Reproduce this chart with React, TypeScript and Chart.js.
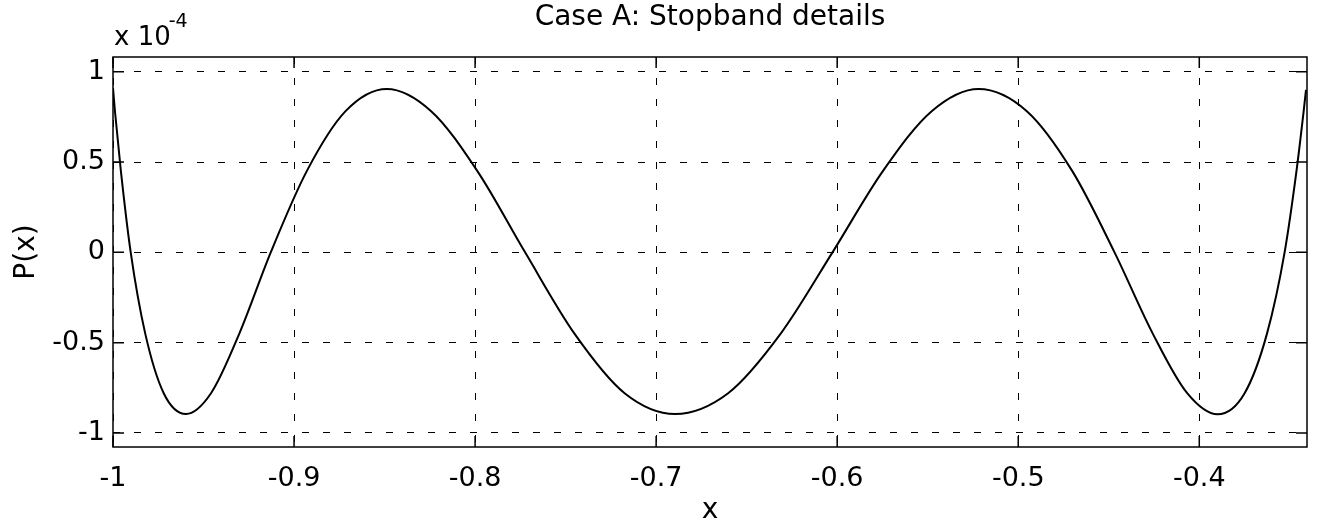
import React, { useEffect, useRef } from "react";
import { Chart, registerables } from "chart.js";

Chart.register(...registerables);

// Curve, P(x) in units of 1e-4
const X_VALUES = [
  -1.0, -0.99891, -0.99564, -0.99022, -0.98219, -0.97199, -0.95967, -0.94586, -0.93023,
  -0.91287, -0.89297, -0.87155, -0.84878, -0.82427, -0.79873, -0.77238, -0.74511, -0.71741,
  -0.6895, -0.66024, -0.6312, -0.6026, -0.57477, -0.54781, -0.52193, -0.49524, -0.47013,
  -0.4468, -0.4257, -0.40668, -0.38989, -0.37496, -0.3626, -0.35287, -0.34632, -0.34237,
  -0.34105,
];
const P_VALUES = [
  0.91, 0.78, 0.45, 0.0, -0.45, -0.78, -0.895, -0.78, -0.45,
  0.0, 0.45, 0.782, 0.905, 0.782, 0.45, 0.0, -0.45, -0.78,
  -0.895, -0.78, -0.45, 0.0, 0.45, 0.782, 0.905, 0.782, 0.45,
  0.0, -0.45, -0.78, -0.897, -0.78, -0.45, 0.0, 0.45, 0.78,
  0.9,
];

const X_TICKS = [-1, -0.9, -0.8, -0.7, -0.6, -0.5, -0.4];
const X_TICK_LABELS = ["-1", "-0.9", "-0.8", "-0.7", "-0.6", "-0.5", "-0.4"];
const Y_TICKS = [-1, -0.5, 0, 0.5, 1];
const Y_TICK_LABELS = ["-1", "-0.5", "0", "0.5", "1"];

const X_MIN = -1;
const X_MAX = -0.3405;
const Y_MIN = -1.078;
const Y_MAX = 1.082;

const TITLE = "Case A: Stopband details";
const X_LABEL = "x";
const Y_LABEL = "P(x)";
const EXP_BASE = "x 10";
const EXP_POWER = "-4";

const FONT_FAMILY = '"DejaVu Sans", "Liberation Sans", Arial, sans-serif';

const framePlugin = {
  id: "matlabFrame",
  afterDraw(chart: any) {
    const { ctx, chartArea, scales } = chart;
    const { left, right, top, bottom } = chartArea;
    ctx.save();
    ctx.strokeStyle = "#000";
    ctx.lineWidth = 1.5;
    ctx.setLineDash([]);
    ctx.strokeRect(left, top, right - left, bottom - top);
    const tl = 11;
    ctx.beginPath();
    for (const t of scales.x.ticks) {
      const px = scales.x.getPixelForValue(t.value);
      ctx.moveTo(px, bottom);
      ctx.lineTo(px, bottom - tl);
      ctx.moveTo(px, top);
      ctx.lineTo(px, top + tl);
    }
    for (const t of scales.y.ticks) {
      const py = scales.y.getPixelForValue(t.value);
      ctx.moveTo(left, py);
      ctx.lineTo(left + tl, py);
      ctx.moveTo(right, py);
      ctx.lineTo(right - tl, py);
    }
    ctx.stroke();

    // exponent label
    ctx.fillStyle = "#000";
    ctx.textBaseline = "alphabetic";
    ctx.textAlign = "left";
    ctx.font = `26px ${FONT_FAMILY}`;
    const bx = 114;
    ctx.fillText(EXP_BASE, bx, 45);
    const w = ctx.measureText(EXP_BASE).width;
    ctx.font = `19px ${FONT_FAMILY}`;
    ctx.fillText(EXP_POWER, bx + w - 2, 27);
    ctx.restore();
  },
};

export default function App() {
  const canvasRef = useRef<HTMLCanvasElement | null>(null);

  useEffect(() => {
    if (!canvasRef.current) return;
    const points = X_VALUES.map((x, i) => ({ x, y: P_VALUES[i] }));
    const chart = new Chart(canvasRef.current, {
      type: "line",
      data: {
        datasets: [
          {
            data: points,
            borderColor: "#000",
            borderWidth: 2,
            pointRadius: 0,
            fill: false,
            cubicInterpolationMode: "monotone",
          },
        ],
      },
      options: {
        animation: false,
        responsive: true,
        maintainAspectRatio: false,
        layout: { padding: { left: 0, right: 11, top: 0, bottom: 0 } },
        plugins: {
          legend: { display: false },
          tooltip: { enabled: false },
          title: {
            display: true,
            fullSize: false,
            text: TITLE,
            color: "#000",
            font: { family: FONT_FAMILY, size: 28, weight: "normal" },
            padding: { top: 1, bottom: 22.4 },
          },
        },
        scales: {
          x: {
            type: "linear",
            min: X_MIN,
            max: X_MAX,
            afterBuildTicks: (scale: any) => {
              scale.ticks = X_TICKS.map((v) => ({ value: v }));
            },
            afterFit: (scale: any) => {
              scale.height = 82;
            },
            ticks: {
              color: "#000",
              font: { family: FONT_FAMILY, size: 27 },
              padding: 16,
              maxRotation: 0,
              autoSkip: false,
              callback: (v: any) => {
                const i = X_TICKS.findIndex((t) => Math.abs(t - Number(v)) < 1e-9);
                return i >= 0 ? X_TICK_LABELS[i] : "";
              },
            },
            grid: { color: "#000", lineWidth: 1, drawTicks: false },
            border: { display: false, dash: [7, 14] },
            title: {
              display: true,
              text: X_LABEL,
              color: "#000",
              font: { family: FONT_FAMILY, size: 28 },
              padding: { top: 0, bottom: 1 },
            },
          },
          y: {
            type: "linear",
            min: Y_MIN,
            max: Y_MAX,
            afterBuildTicks: (scale: any) => {
              scale.ticks = Y_TICKS.map((v) => ({ value: v }));
            },
            afterFit: (scale: any) => {
              scale.width = 113;
            },
            ticks: {
              color: "#000",
              font: { family: FONT_FAMILY, size: 27 },
              padding: 8,
              autoSkip: false,
              callback: (v: any) => {
                const i = Y_TICKS.findIndex((t) => Math.abs(t - Number(v)) < 1e-9);
                return i >= 0 ? Y_TICK_LABELS[i] : "";
              },
            },
            grid: { color: "#000", lineWidth: 1, drawTicks: false },
            border: { display: false, dash: [7, 14] },
            title: {
              display: true,
              text: Y_LABEL,
              color: "#000",
              font: { family: FONT_FAMILY, size: 28 },
              padding: { top: 10, bottom: 0 },
            },
          },
        },
      },
      plugins: [framePlugin],
    });
    return () => chart.destroy();
  }, []);

  return (
    <div style={{ position: "absolute", left: 0, top: 0, width: 1318, height: 529, background: "#fff" }}>
      <canvas ref={canvasRef} />
    </div>
  );
}
